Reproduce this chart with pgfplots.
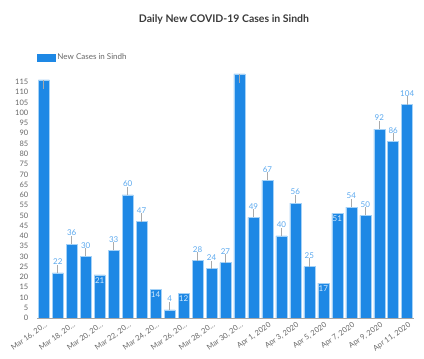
\documentclass[border=0pt]{standalone}
\usepackage{fontspec}
\setmainfont{Lato}
\usepackage{pgfplots}
\pgfplotsset{compat=1.18}
\definecolor{barblue}{HTML}{1E88E5}
\definecolor{edgeblue}{HTML}{A5D2F7}
\definecolor{lblblue}{HTML}{5AA8EE}
\definecolor{inlbl}{HTML}{D6EBFC}
\definecolor{tickgray}{HTML}{666666}
\definecolor{stemgray}{HTML}{AAAAAA}
\definecolor{titlegray}{HTML}{3A3A3A}
\begin{document}
\begin{tikzpicture}
\path[use as bounding box] (0,0) rectangle (424pt,359pt);
\node[font=\fontsize{10.5}{12}\selectfont\bfseries, text=titlegray] at (224pt,340pt) {Daily New COVID-19 Cases in Sindh};
\begin{axis}[
  at={(36.8pt,41pt)}, anchor=south west,
  scale only axis, width=377.4pt, height=246.3pt,
  xmin=-0.5, xmax=26.5, ymin=0, ymax=120,
  ytick={0,5,...,115},
  xtick={0,2,...,26},
  xticklabels={{Mar 16, 20…},{Mar 18, 20…},{Mar 20, 20…},{Mar 22, 20…},{Mar 24, 20…},{Mar 26, 20…},{Mar 28, 20…},{Mar 30, 20…},{Apr 1, 2020},{Apr 3, 2020},{Apr 5, 2020},{Apr 7, 2020},{Apr 9, 2020},{Apr 11, 2020}},
  axis x line*=bottom, axis y line*=left,
  x axis line style={-, draw=gray!70, line width=0.6pt},
  y axis line style={draw=none},
  major tick length=0pt,
  unbounded coords=jump,
  /pgf/number format/assume math mode=true,
  yticklabel style={font=\fontsize{7.5}{9}\selectfont, text=tickgray, xshift=-5pt},
  xticklabel style={font=\fontsize{7.5}{9}\selectfont, text=tickgray, rotate=35, anchor=north east, xshift=2pt},
  legend style={at={(0,1.057)}, anchor=west, xshift=-3pt, draw=none, fill=none, font=\fontsize{8}{10}\selectfont, text=tickgray},
  legend image code/.code={\fill[barblue] (0pt,-3.5pt) rectangle (18pt,3.5pt);},
]
\addplot[ybar, bar width=11pt, bar shift=0pt, fill=barblue, draw=edgeblue, line width=0.5pt] table {
x y
0 116
1 22
2 36
3 30
4 21
5 33
6 60
7 47
8 14
9 4
10 12
11 28
12 24
13 27
14 119
15 49
16 67
17 40
18 56
19 25
20 17
21 51
22 54
23 50
24 92
25 86
26 104
};
\addlegendentry{New Cases in Sindh}
% labels above bars with stems
\addplot[only marks, mark=none, forget plot,
  nodes near coords,
  every node near coord/.append style={anchor=south, yshift=7pt, inner sep=1pt, text=lblblue, font=\fontsize{8}{10}\selectfont},
  error bars/.cd, y dir=plus, y fixed=4, error mark=none, error bar style={stemgray, line width=0.6pt}] table {
x y
1 22
2 36
3 30
5 33
6 60
7 47
9 4
11 28
12 24
13 27
15 49
16 67
17 40
18 56
19 25
22 54
23 50
24 92
25 86
26 104
};
% labels inside bars
\addplot[only marks, mark=none, forget plot,
  nodes near coords,
  every node near coord/.append style={anchor=north, yshift=-1pt, inner sep=1.5pt, text=inlbl, font=\fontsize{8}{10}\selectfont}] table {
x y
4 21
8 14
10 12
20 17
21 51
};
% stems of clipped labels
\addplot[sharp plot, no markers, forget plot, draw=stemgray, line width=0.6pt] table {
x y
0 111.5
0 116
0 nan
14 114.5
14 119
};
\end{axis}
\end{tikzpicture}
\end{document}
